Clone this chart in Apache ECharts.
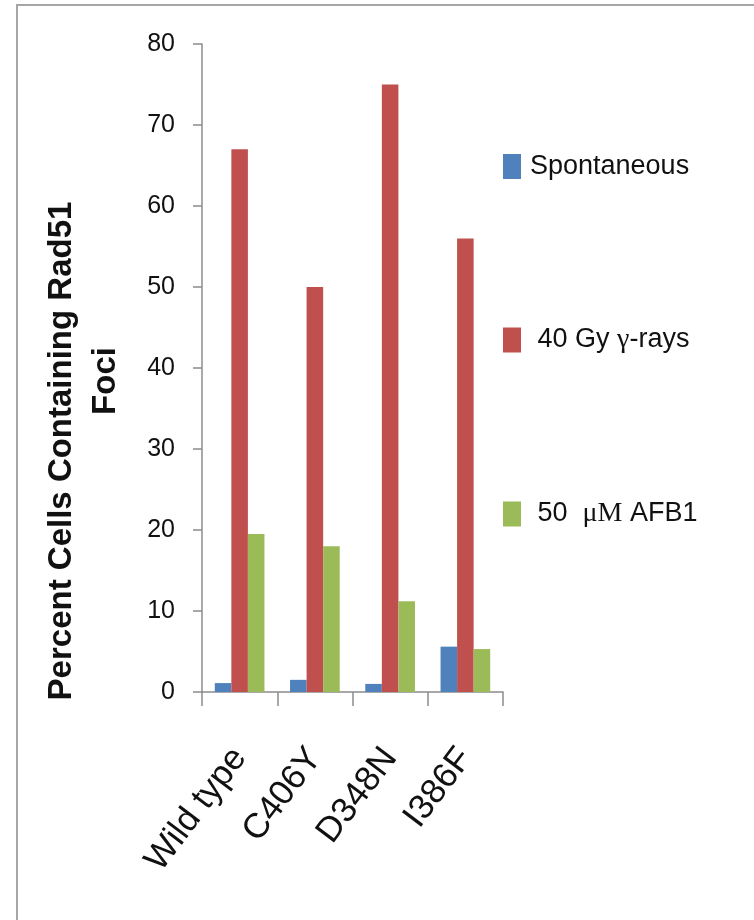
<!DOCTYPE html>
<html>
<head>
<meta charset="utf-8">
<script src="https://cdn.jsdelivr.net/npm/echarts@6/dist/echarts.min.js"></script>
<style>
  html, body { margin: 0; padding: 0; background: #fff; }
  #chart { width: 754px; height: 920px; }
</style>
</head>
<body>
<div id="chart"></div>
<script>
// Rad51 foci per mutant, three treatments
var categories = ['Wild type', 'C406Y', 'D348N', 'I386F'];
var seriesNames = ['Spontaneous', '40 Gy γ-rays', '50  μM AFB1'];
var spontaneous = [1.1, 1.5, 1.0, 5.6];
var gammaRays = [67, 50, 75, 56];
var afb1 = [19.5, 18, 11.2, 5.3];
var yTicks = [0, 10, 20, 30, 40, 50, 60, 70, 80];

var colors = ['#4f81bd', '#c0504d', '#9bbb59'];
var labelFont = '"Liberation Sans", Arial, sans-serif';
var serif = '"Liberation Serif", "DejaVu Serif", serif';

var chart = echarts.init(document.getElementById('chart'), null, { renderer: 'canvas' });

function legendLabel(name) {
  if (name === seriesNames[0]) return name;
  if (name === seriesNames[1]) return ' 40 Gy {s|γ}-rays';
  return ' 50  {s|μM} AFB1';
}

chart.setOption({
  backgroundColor: '#ffffff',
  animation: false,
  color: colors,
  grid: { left: 202, right: 251, top: 44, bottom: 228, containLabel: false },
  legend: {
    orient: 'vertical',
    left: 498,
    top: 148,
    itemWidth: 18,
    itemHeight: 25,
    itemGap: 146,
    icon: 'rect',
    data: seriesNames,
    formatter: legendLabel,
    textStyle: {
      fontFamily: labelFont,
      fontSize: 27,
      color: '#111',
      padding: [0, 0, 0, 4],
      rich: { s: { fontFamily: serif, fontSize: 28, color: '#111' } }
    }
  },
  xAxis: {
    type: 'category',
    data: categories,
    boundaryGap: true,
    axisLine: { lineStyle: { color: '#8c8c8c', width: 1.5 } },
    axisTick: { show: true, length: 14, alignWithLabel: false, lineStyle: { color: '#8c8c8c', width: 1.5 } },
    axisLabel: {
      rotate: 53,
      interval: 0,
      margin: 60,
      fontFamily: labelFont,
      fontSize: 35,
      color: '#111'
    }
  },
  yAxis: {
    type: 'value',
    min: yTicks[0],
    max: yTicks[yTicks.length - 1],
    interval: 10,
    splitLine: { show: false },
    axisLine: { show: true, lineStyle: { color: '#8c8c8c', width: 1.5 } },
    axisTick: { show: true, length: 9, lineStyle: { color: '#8c8c8c', width: 1.5 } },
    axisLabel: {
      margin: 27,
      fontFamily: labelFont,
      fontSize: 25,
      color: '#111'
    }
  },
  graphic: [
    {
      type: 'rect',
      silent: true,
      shape: { x: 17, y: 5, width: 800, height: 1000 },
      style: { fill: 'none', stroke: '#a6a6a6', lineWidth: 2 }
    },
    {
      type: 'text',
      x: 62, y: 451,
      rotation: Math.PI / 2,
      style: {
        text: 'Percent Cells Containing Rad51',
        fontFamily: labelFont,
        fontWeight: 'bold',
        fontSize: 33,
        fill: '#111',
        align: 'center',
        verticalAlign: 'middle'
      }
    },
    {
      type: 'text',
      x: 106, y: 381,
      rotation: Math.PI / 2,
      style: {
        text: 'Foci',
        fontFamily: labelFont,
        fontWeight: 'bold',
        fontSize: 33,
        fill: '#111',
        align: 'center',
        verticalAlign: 'middle'
      }
    }
  ],
  series: [
    { name: seriesNames[0], type: 'bar', data: spontaneous, barWidth: '22%', barGap: '0%' },
    { name: seriesNames[1], type: 'bar', data: gammaRays, barWidth: '22%', barGap: '0%' },
    { name: seriesNames[2], type: 'bar', data: afb1, barWidth: '22%', barGap: '0%' }
  ]
});
</script>
</body>
</html>
